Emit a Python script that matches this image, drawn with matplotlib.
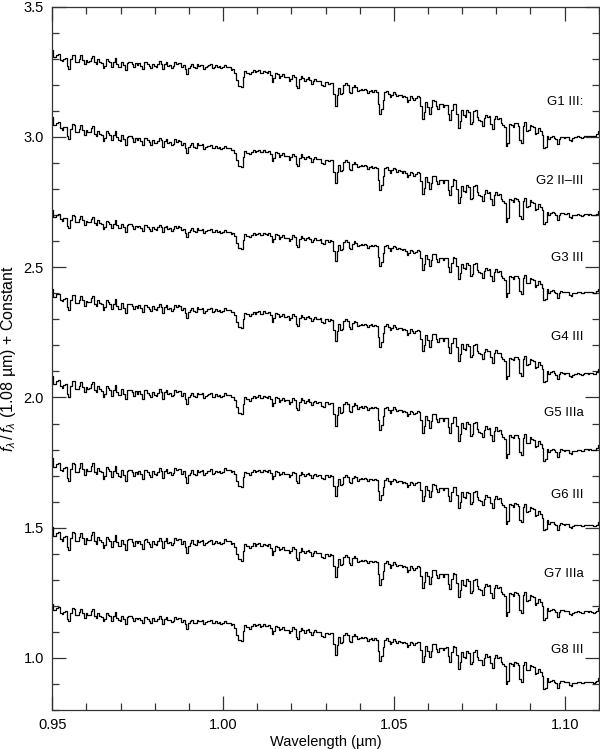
import numpy as np
import matplotlib
matplotlib.use("Agg")
import matplotlib.pyplot as plt
from matplotlib.ticker import MultipleLocator

plt.rcParams['font.family'] = ['Liberation Sans', 'DejaVu Sans']
plt.rcParams['mathtext.fontset'] = 'custom'
plt.rcParams['mathtext.rm'] = 'Liberation Sans'
plt.rcParams['mathtext.it'] = 'Liberation Sans:italic'

# ---- data ----
star_labels = ["G1 III:", "G2 II\u2013III", "G3 III", "G4 III", "G5 IIIa", "G6 III", "G7 IIIa", "G8 III"]
label_y = [3.134, 2.832, 2.534, 2.233, 1.939, 1.626, 1.324, 1.03]

# continuum (upper envelope) nodes, µm
cont_wl = [0.95, 1.00, 1.05, 1.08, 1.092, 1.097, 1.11]
cont_G1 = [3.35, 3.29, 3.175, 3.10, 3.07, 3.03, 3.03]
cont_G2 = [3.095, 2.98, 2.885, 2.81, 2.78, 2.74, 2.725]
cont_G3 = [2.735, 2.655, 2.585, 2.51, 2.48, 2.435, 2.425]
cont_G4 = [2.435, 2.355, 2.28, 2.20, 2.17, 2.125, 2.115]
cont_G5 = [2.105, 2.03, 1.965, 1.905, 1.87, 1.83, 1.825]
cont_G6 = [1.79, 1.74, 1.69, 1.64, 1.60, 1.545, 1.53]
cont_G7 = [1.525, 1.47, 1.37, 1.30, 1.265, 1.215, 1.20]
cont_G8 = [1.225, 1.155, 1.075, 1.03, 0.995, 0.94, 0.93]

# absorption features: centre (µm) and depth (flux units)
line_wl = [0.9506, 0.9515, 0.9527, 0.9536, 0.9548, 0.9558, 0.9571, 0.9580, 0.9594, 0.9606,
           0.9614, 0.9628, 0.9641, 0.9652, 0.9665, 0.9676, 0.9691, 0.9700, 0.9714, 0.9727,
           0.9739, 0.9751, 0.9764, 0.9778, 0.9789, 0.9802, 0.9811, 0.9825, 0.9840, 0.9852,
           0.9866, 0.9880, 0.9894, 0.9905, 0.9918, 0.9932, 0.9946, 0.9958, 0.9972, 0.9985,
           0.9997,
           1.0012, 1.0025, 1.0037, 1.0045, 1.0055, 1.0070, 1.0081, 1.0096, 1.0112, 1.0128,
           1.0146, 1.0166, 1.0182, 1.0196, 1.0218, 1.0240, 1.0260, 1.0277, 1.0293, 1.0310,
           1.0330, 1.0347, 1.0373, 1.0396, 1.0410, 1.0425, 1.0440, 1.0459, 1.0467, 1.0490,
           1.0510, 1.0525, 1.0541, 1.0560, 1.0586, 1.0605, 1.0629, 1.0645, 1.0664, 1.0691,
           1.0708, 1.0727, 1.0748, 1.0760, 1.0775, 1.0789, 1.0805, 1.0818, 1.0832, 1.0848,
           1.0860, 1.0873, 1.0892, 1.0905, 1.0917, 1.0930, 1.0942, 1.0956, 1.0968, 1.0980,
           1.0992, 1.1002, 1.1012, 1.1019, 1.1027, 1.1035, 1.1044, 1.1052, 1.1060, 1.1069,
           1.1078, 1.1086, 1.1094]
line_depth = [0.050, 0.030, 0.060, 0.040, 0.100, 0.030, 0.060, 0.040, 0.070, 0.050,
              0.030, 0.070, 0.050, 0.080, 0.040, 0.070, 0.050, 0.060, 0.080, 0.040,
              0.060, 0.050, 0.070, 0.040, 0.060, 0.050, 0.030, 0.060, 0.040, 0.050,
              0.030, 0.040, 0.070, 0.030, 0.045, 0.030, 0.040, 0.025, 0.035, 0.025,
              0.030,
              0.020, 0.025, 0.030, 0.070, 0.080, 0.025, 0.030, 0.020, 0.020, 0.015,
              0.045, 0.025, 0.020, 0.030, 0.055, 0.020, 0.025, 0.015, 0.030, 0.015,
              0.095, 0.050, 0.040, 0.022, 0.015, 0.022, 0.015, 0.085, 0.045, 0.025,
              0.015, 0.015, 0.030, 0.018, 0.085, 0.060, 0.035, 0.025, 0.070, 0.095,
              0.050, 0.075, 0.045, 0.065, 0.030, 0.075, 0.030, 0.050, 0.140, 0.050,
              0.030, 0.115, 0.060, 0.030, 0.065, 0.035, 0.105, 0.050, 0.030, 0.055,
              0.025, 0.030, 0.020, 0.035, 0.020, 0.025, 0.020, 0.025, 0.018, 0.022,
              0.018, 0.020, 0.018]
# per-star strength of the lines (short-wavelength forest, photospheric lines)
forest_scale = [0.85, 0.95, 0.8, 0.95, 1.0, 1.1, 1.1, 0.8]
line_scale = [1.0, 1.0, 0.9, 0.95, 1.0, 0.9, 1.0, 0.95]

continua = [cont_G1, cont_G2, cont_G3, cont_G4, cont_G5, cont_G6, cont_G7, cont_G8]

# ---- figure ----
fig = plt.figure(figsize=(6.0, 7.49), dpi=100)
ax = fig.add_axes([0.087, 0.052, 0.911, 0.939])

wl = np.arange(0.9500, 1.1100001, 0.0005)
lw_arr = np.array(line_wl)
ld_arr = np.array(line_depth)
sig = 0.00045
profiles = np.exp(-0.5 * ((wl[:, None] - lw_arr[None, :]) / sig) ** 2)
is_forest = lw_arr < 1.0

for i, cont in enumerate(continua):
    base = np.interp(wl, cont_wl, cont)
    scale = np.where(is_forest, forest_scale[i], line_scale[i])
    flux = base - profiles @ (ld_arr * scale)
    ax.plot(wl, flux, color='black', lw=0.9, drawstyle='steps-mid')
    ax.text(1.1055, label_y[i], star_labels[i], ha='right', va='center', fontsize=9.5)

ax.set_xlim(0.95, 1.11)
ax.set_ylim(0.80, 3.50)
ax.xaxis.set_major_locator(MultipleLocator(0.05))
ax.xaxis.set_minor_locator(MultipleLocator(0.01))
ax.yaxis.set_major_locator(MultipleLocator(0.5))
ax.yaxis.set_minor_locator(MultipleLocator(0.1))
ax.set_xticks([0.95, 1.00, 1.05, 1.10])
ax.set_xticklabels(["0.95", "1.00", "1.05", "1.10"])
ax.tick_params(which='both', direction='in', top=True, right=True, labelsize=10.5,
               width=0.9, colors='#333333', labelcolor='black')
ax.tick_params(which='major', length=10, pad=6)
ax.tick_params(which='minor', length=5)
for s in ax.spines.values():
    s.set_linewidth(0.9)
    s.set_color('#333333')

ax.set_xlabel("Wavelength (\u00b5m)", fontsize=10.5, labelpad=2)
ax.set_ylabel("$f_\\lambda\\,/\\,f_\\lambda$ (1.08 \u00b5m) + Constant", fontsize=11.5, labelpad=4)

fig.savefig("out.png", dpi=100)
